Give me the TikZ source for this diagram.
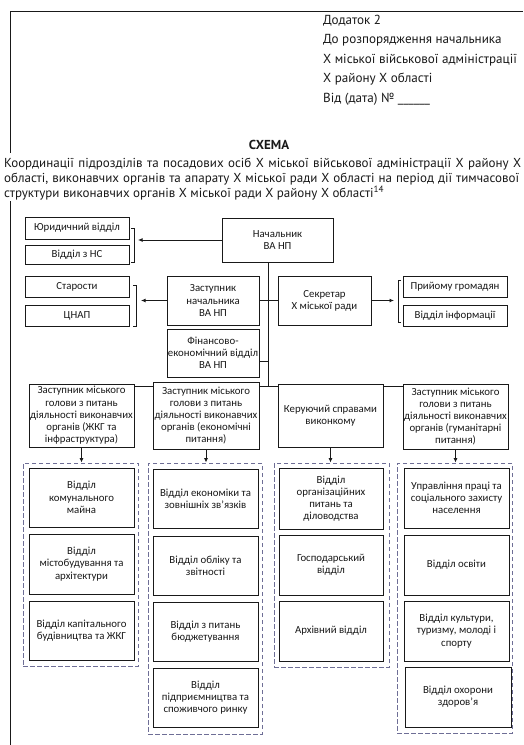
\documentclass[tikz,border=0pt]{standalone}
\usepackage{fontspec}
\setmainfont{PT Sans}
\newfontfamily\boxfont{Carlito}
\usetikzlibrary{arrows.meta,calc}
\definecolor{grp}{RGB}{110,110,150}
\definecolor{ink}{RGB}{25,25,25}
\newcommand\mkbox[6]{\node[bx,minimum width={(#4-#2)*1pt},minimum height={(#5-#3)*1pt}] (#1) at ({(#2+#4)/2},{(#3+#5)/2}) {#6};}
\newcommand\mkgrp[5]{\node[grpbox,minimum width={(#4-#2)*1pt},minimum height={(#5-#3)*1pt}] (#1) at ({(#2+#4)/2},{(#3+#5)/2}) {};}
\begin{document}
\begin{tikzpicture}[x=1pt,y=-1pt,
  bx/.style={draw=ink,line width=0.9pt,fill=white,inner sep=1pt,align=center,
    font=\boxfont\fontsize{10.8}{12.2}\selectfont,text=ink},
  grpbox/.style={draw=grp,line width=0.9pt,dash pattern=on 4.5pt off 2.5pt,inner sep=0pt},
  conn/.style={draw=ink,line width=0.9pt},
  arr/.style={draw=ink,line width=0.9pt,-{Latex[length=4.5pt,width=4pt]}},
  hdr/.style={anchor=base west,inner sep=0pt,font=\fontsize{13.1}{15}\selectfont,text=ink},
  par/.style={anchor=base west,inner sep=0pt,font=\fontsize{13}{15}\selectfont,text=ink}]
\useasboundingbox (0,0) rectangle (523,745);
% page frame
\draw[ink,line width=1pt] (10,745) -- (10,11) -- (523,11);
% header
\node[hdr] (h1) at (323,24) {Додаток 2};
\node[hdr] (h2) at (323,43) {До розпорядження начальника};
\node[hdr] (h3) at (323,63) {Х міської військової адміністрації};
\node[hdr] (h4) at (323,82) {Х району Х області};
\node[hdr] (h5) at (323,102) {Від (дата) № \_\_\_\_\_\_};
% title
\node[inner sep=0pt,font=\bfseries\fontsize{13}{15}\selectfont,text=ink] (title) at (269,145) {СХЕМА};
\fill[white] (2,153) rectangle (522,201);
\node[par] (p1) at (4,167) {\makebox[517pt][s]{Координації підрозділів та посадових осіб Х міської військової адміністрації Х району Х}};
\node[par] (p2) at (4,182) {\makebox[515pt][s]{області, виконавчих органів та апарату Х міської ради Х області на період дії тимчасової}};
\node[par] (p3) at (4,197) {структури виконавчих органів Х міської ради Х району Х області\textsuperscript{14}};
% top part
\mkbox{yur}{25}{217}{129}{239}{Юридичний відділ}
\mkbox{ns}{25}{245}{129}{264}{Відділ з НС}
\mkbox{nach}{222}{218}{333}{262}{Начальник\\ВА НП}
\mkbox{st}{25}{276}{129}{297}{Старости}
\mkbox{cnap}{25}{305}{129}{326}{ЦНАП}
\mkbox{zast}{167}{276}{259}{325}{Заступник\\начальника\\ВА НП}
\mkbox{sec}{278}{276}{371}{325}{Секретар\\Х міської ради}
\mkbox{pr}{403}{276}{507}{297}{Прийому громадян}
\mkbox{inf}{403}{305}{507}{326}{Відділ інформації}
\mkbox{fin}{167}{329}{259}{377}{Фінансово-\\економічний відділ\\ВА НП}
% brackets
\draw[conn] (131,228) -- (134,228) -- (134,262) -- (131,262);
\draw[conn] (133,285) -- (136,285) -- (136,326) -- (133,326);
\draw[conn] (401,280) -- (398,280) -- (398,322) -- (401,322);
\coordinate (a1) at (138,240);
\coordinate (a2) at (141,300.5);
\coordinate (a3) at (394,300.5);
\draw[arr] (nach.west) -- (a1);
\draw[arr] (zast.west) -- (a2);
\draw[arr] (sec.east) -- (a3);
% trunk
\coordinate (ttop) at (268,262);
\coordinate (tbot) at (268,386);
\coordinate (finj) at (259,361);
\draw[conn] (ttop) -- (tbot);
\draw[conn] (zast.east) -- (sec.west);
\draw[conn] (finj) -- (finj -| ttop);
% second row
\mkbox{z1}{29}{384}{134}{447}{Заступник міського\\голови з питань\\діяльності виконавчих\\органів (ЖКГ та\\інфраструктура)}
\mkbox{z2}{153}{382}{259}{449}{Заступник міського\\голови з питань\\діяльності виконавчих\\органів (економічні\\питання)}
\mkbox{ker}{278}{384}{383}{447}{Керуючий справами\\виконкому}
\mkbox{z4}{403}{384}{508}{449}{Заступник міського\\голови з питань\\діяльності виконавчих\\органів (гуманітарні\\питання)}
\draw[conn] (z1.east |- tbot) -- (z2.west |- tbot);
\draw[conn] (z2.east |- tbot) -- (ker.west |- tbot);
\draw[conn] (ker.east |- tbot) -- (z4.west |- tbot);
% groups
\mkgrp{g1}{23}{463}{138}{666}
\mkgrp{g2}{148}{463}{262}{734}
\mkgrp{g3}{274}{463}{389}{667}
\mkgrp{g4}{397}{463}{512}{733}
\draw[arr] (z1.south) -- (z1.south |- g1.north);
\draw[arr] (z2.south) -- (z2.south |- g2.north);
\draw[arr] (ker.south) -- (ker.south |- g3.north);
\draw[arr] (z4.south) -- (z4.south |- g4.north);
% group 1
\mkbox{d11}{29}{468}{134}{527}{Відділ\\комунального\\майна}
\mkbox{d12}{29}{534}{134}{594}{Відділ\\містобудування та\\архітектури}
\mkbox{d13}{29}{601}{134}{660}{Відділ капітального\\будівництва та ЖКГ}
% group 2
\mkbox{d21}{153}{469}{258}{528}{Відділ економіки та\\зовнішніх зв’язків}
\mkbox{d22}{153}{536}{258}{595}{Відділ обліку та\\звітності}
\mkbox{d23}{153}{602}{258}{661}{Відділ з питань\\бюджетування}
\mkbox{d24}{153}{668}{258}{727}{Відділ\\підприємництва та\\споживчого ринку}
% group 3
\mkbox{d31}{279}{468}{383}{529}{Відділ\\організаційних\\питань та\\діловодства}
\mkbox{d32}{279}{535}{383}{595}{Господарський\\відділ}
\mkbox{d33}{279}{601}{383}{661}{Архівний відділ}
% group 4
\mkbox{d41}{404}{468}{509}{528}{Управління праці та\\соціального захисту\\населення}
\mkbox{d42}{404}{535}{509}{595}{Відділ освіти}
\mkbox{d43}{404}{601}{509}{661}{Відділ культури,\\туризму, молоді і\\спорту}
\mkbox{d44}{405}{667}{511}{727}{Відділ охорони\\здоров’я}
\end{tikzpicture}
\end{document}
